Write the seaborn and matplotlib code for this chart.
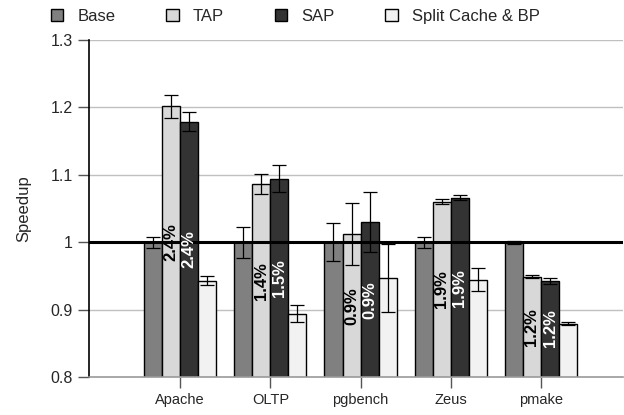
import numpy as np
import pandas as pd
import matplotlib
matplotlib.use("Agg")
import matplotlib.pyplot as plt
import seaborn as sns

benchmarks = ["Apache", "OLTP", "pgbench", "Zeus", "pmake"]
configs = ["Base", "TAP", "SAP", "Split Cache & BP"]
base = [1.0, 1.0, 1.0, 1.0, 1.0]
tap = [1.202, 1.086, 1.012, 1.060, 0.949]
sap = [1.179, 1.094, 1.030, 1.066, 0.943]
split = [0.943, 0.894, 0.947, 0.944, 0.879]
base_err = [0.008, 0.023, 0.028, 0.008, 0.002]
tap_err = [0.017, 0.0145, 0.046, 0.004, 0.002]
sap_err = [0.0135, 0.020, 0.044, 0.004, 0.0045]
split_err = [0.007, 0.013, 0.051, 0.017, 0.0025]
tap_labels = ["2.4%", "1.4%", "0.9%", "1.9%", "1.2%"]
sap_labels = ["2.4%", "1.5%", "0.9%", "1.9%", "1.2%"]

values = [base, tap, sap, split]
errors = [base_err, tap_err, sap_err, split_err]
rows = []
for c, vals in zip(configs, values):
    for b, v in zip(benchmarks, vals):
        rows.append({"benchmark": b, "config": c, "speedup": v})
df = pd.DataFrame(rows)

sns.set_style("white")
plt.rcParams["font.family"] = ["Liberation Sans", "DejaVu Sans"]

colors = ["#808080", "#d8d8d8", "#333333", "#f2f2f2"]
fig = plt.figure(figsize=(6.24, 4.15), dpi=100)
ax = fig.add_axes([0.1426, 0.0916, 0.856, 0.812])

ax.set_ylim(0.8, 1.3)
for g in [0.9, 1.1, 1.2, 1.3]:
    ax.axhline(g, color="#c0c0c0", lw=1, zorder=0)

sns.barplot(data=df, x="benchmark", y="speedup", hue="config",
            order=benchmarks, hue_order=configs, palette=colors,
            width=0.8, edgecolor="black", linewidth=1.0,
            errorbar=None, ax=ax, legend=True, zorder=2)
ax.set_ylim(0.8, 1.3)
ax.set_xlim(-1.01, 4.91)

for cont, errs in zip(ax.containers, errors):
    xs = [p.get_x() + p.get_width() / 2 for p in cont.patches]
    ys = [p.get_y() + p.get_height() for p in cont.patches]
    ax.errorbar(xs, ys, yerr=errs, fmt="none", ecolor="black",
                elinewidth=0.9, capsize=5, capthick=0.9, zorder=4)

ax.axhline(1.0, color="black", lw=2.2, zorder=3)

label_tap_y = [1.0, 0.943, 0.905, 0.93, 0.874]
label_sap_y = [0.99, 0.947, 0.914, 0.932, 0.872]
for i in range(len(benchmarks)):
    p = ax.containers[1].patches[i]
    ax.text(p.get_x() + p.get_width() / 2, label_tap_y[i], tap_labels[i],
            rotation=90, ha="center", va="center", fontsize=12,
            fontweight="bold", color="black", zorder=5)
    p = ax.containers[2].patches[i]
    ax.text(p.get_x() + p.get_width() / 2, label_sap_y[i], sap_labels[i],
            rotation=90, ha="center", va="center", fontsize=12,
            fontweight="bold", color="white", zorder=5)

ax.set_yticks([0.8, 0.9, 1.0, 1.1, 1.2, 1.3])
ax.set_yticklabels(["0.8", "0.9", "1", "1.1", "1.2", "1.3"])
ax.tick_params(axis="y", direction="out", length=8, width=1, labelsize=11.5,
               left=True, color="#555555")
ax.tick_params(axis="x", direction="out", length=8, width=1, labelsize=10.5,
               bottom=True, color="#555555")
ax.set_xlabel("")
ax.set_ylabel("Speedup", fontsize=12, labelpad=14)

for s in ["top", "right"]:
    ax.spines[s].set_visible(False)
ax.spines["left"].set_color("black")
ax.spines["left"].set_linewidth(1.2)
ax.spines["bottom"].set_color("#999999")
ax.spines["bottom"].set_linewidth(1.2)

ax.legend_.remove()
handles = [plt.Rectangle((0, 0), 1, 1, facecolor=c, edgecolor="black", lw=1)
           for c in colors]
fig.legend(handles, configs, loc="upper left", bbox_to_anchor=(0.057, 1.015),
           ncol=4, frameon=False, fontsize=12, handlelength=0.75,
           handleheight=0.75, columnspacing=3.05, handletextpad=0.85)

fig.savefig("out.png", dpi=100)
